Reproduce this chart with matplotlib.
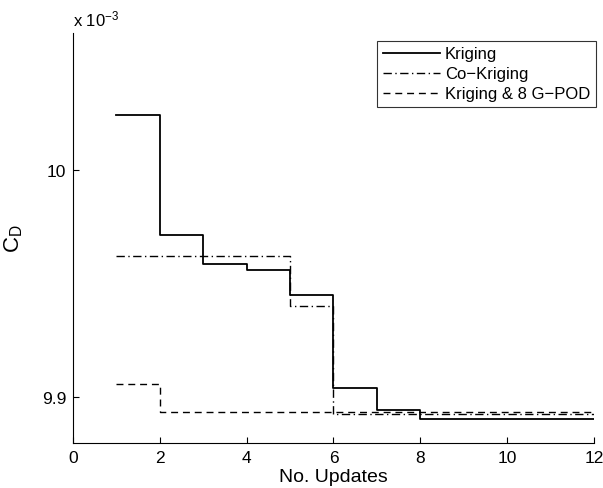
import matplotlib
matplotlib.use("Agg")
import matplotlib.pyplot as plt

plt.rcParams.update({"font.family": ["Liberation Sans", "DejaVu Sans"],
                     "mathtext.fontset": "custom",
                     "mathtext.rm": "Liberation Sans",
                     "mathtext.it": "Liberation Sans"})

# --- data (C_D in units of 1e-3) ---
updates = [1, 2, 3, 4, 5, 6, 7, 8, 9, 10, 11, 12]
kriging = [10.0241, 9.9715, 9.9588, 9.9558, 9.9449, 9.9043, 9.8947, 9.8904,
           9.8904, 9.8904, 9.8904, 9.8904]
co_kriging = [9.9623, 9.9623, 9.9623, 9.9623, 9.9404, 9.8927, 9.8927, 9.8928,
              9.8928, 9.8928, 9.8928, 9.8928]
kriging_gpod = [9.9058, 9.8937, 9.8937, 9.8937, 9.8937, 9.8935, 9.8935, 9.8935,
                9.8935, 9.8935, 9.8935, 9.8935]

fig = plt.figure(figsize=(6.03, 4.89), dpi=100)
ax = fig.add_axes([0.121, 0.092, 0.864, 0.838])

ax.step(updates, kriging, where="post", color="black", lw=1.3, ls="-", label="Kriging")
ax.step(updates, co_kriging, where="post", color="black", lw=1.0, ls=(0, (6, 2.5, 1, 2.5)),
        label="Co\u2212Kriging")
ax.step(updates, kriging_gpod, where="post", color="black", lw=1.0, ls=(0, (5, 3.5)),
        label="Kriging & 8 G\u2212POD")

ax.set_xlim(0, 12)
ax.set_ylim(9.88, 10.06)
ax.set_xticks([0, 2, 4, 6, 8, 10, 12])
ax.set_yticks([9.9, 10.0])
ax.set_yticklabels(["9.9", "10"])
ax.tick_params(direction="in", length=4, width=0.8, labelsize=12.5, colors="black", pad=5)

for side in ["top", "right"]:
    ax.spines[side].set_visible(False)
for side in ["left", "bottom"]:
    ax.spines[side].set_linewidth(0.8)

ax.set_xlabel("No. Updates", fontsize=14, labelpad=2)
ax.set_ylabel("C$_\\mathregular{D}$", fontsize=16, labelpad=12)
ax.text(0.0, 1.012, "x 10$^{\\mathregular{-3}}$", transform=ax.transAxes, fontsize=12,
        ha="left", va="bottom")

leg = ax.legend(loc="upper right", bbox_to_anchor=(1.01, 0.99), fontsize=12,
                frameon=True, fancybox=False, edgecolor="black", handlelength=3.4,
                handletextpad=0.3, borderpad=0.35, labelspacing=0.3, borderaxespad=0.2)
leg.get_frame().set_linewidth(0.8)

fig.savefig("out.png", dpi=100, facecolor="white")
